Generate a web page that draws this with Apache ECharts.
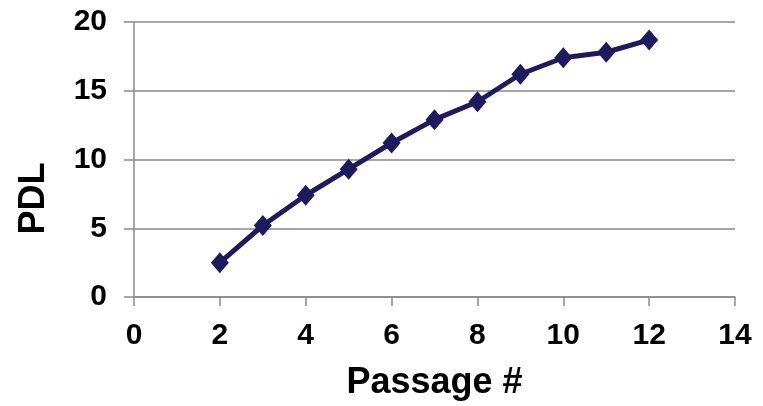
<!DOCTYPE html>
<html>
<head>
<meta charset="utf-8">
<script src="https://cdn.jsdelivr.net/npm/echarts@6/dist/echarts.min.js"></script>
<style>
  html, body { margin: 0; padding: 0; background: #fff; }
  #chart { width: 763px; height: 406px; }
</style>
</head>
<body>
<div id="chart"></div>
<script>
// Population doubling level per passage
const passages = [2, 3, 4, 5, 6, 7, 8, 9, 10, 11, 12];
const pdl = [2.5, 5.2, 7.4, 9.3, 11.2, 12.9, 14.2, 16.2, 17.4, 17.8, 18.7];

const xAxisName = 'Passage #';
const yAxisName = 'PDL';

const font = '"Liberation Sans", Arial, sans-serif';
const gray = '#8a8a8a';
const navy = '#1f1a5e';

const chart = echarts.init(document.getElementById('chart'), null, { renderer: 'canvas' });

chart.setOption({
  animation: false,
  backgroundColor: '#ffffff',
  grid: { left: 134, right: 28, top: 22, bottom: 107.5, containLabel: false },
  xAxis: {
    type: 'value',
    min: 0, max: 14, interval: 2,
    name: xAxisName,
    nameLocation: 'middle',
    nameGap: 68,
    nameTextStyle: { fontFamily: font, fontWeight: 'bold', fontSize: 36, color: '#000' },
    axisLine: { show: true, lineStyle: { color: gray, width: 1.5 } },
    axisTick: { show: true, inside: false, length: 9, lineStyle: { color: gray, width: 1.5 } },
    axisLabel: { margin: 24, fontFamily: font, fontWeight: 'bold', fontSize: 30, color: '#000' },
    splitLine: { show: false }
  },
  yAxis: {
    type: 'value',
    min: 0, max: 20, interval: 5,
    name: yAxisName,
    nameLocation: 'middle',
    nameGap: 82,
    nameRotate: 90,
    nameTextStyle: { fontFamily: font, fontWeight: 'bold', fontSize: 36, color: '#000', padding: [0, 78, 0, 0] },
    axisLine: { show: true, lineStyle: { color: gray, width: 1.5 } },
    axisTick: { show: true, inside: false, length: 10, lineStyle: { color: gray, width: 1.5 } },
    axisLabel: { margin: 27, fontFamily: font, fontWeight: 'bold', fontSize: 30, color: '#000' },
    splitLine: { show: true, lineStyle: { color: gray, width: 1.5 } }
  },
  series: [{
    type: 'line',
    data: passages.map((p, i) => [p, pdl[i]]),
    symbol: 'diamond',
    symbolSize: [18, 21],
    showAllSymbol: true,
    lineStyle: { color: navy, width: 5 },
    itemStyle: { color: navy, borderWidth: 0 },
    emphasis: { disabled: true }
  }]
});
</script>
</body>
</html>
